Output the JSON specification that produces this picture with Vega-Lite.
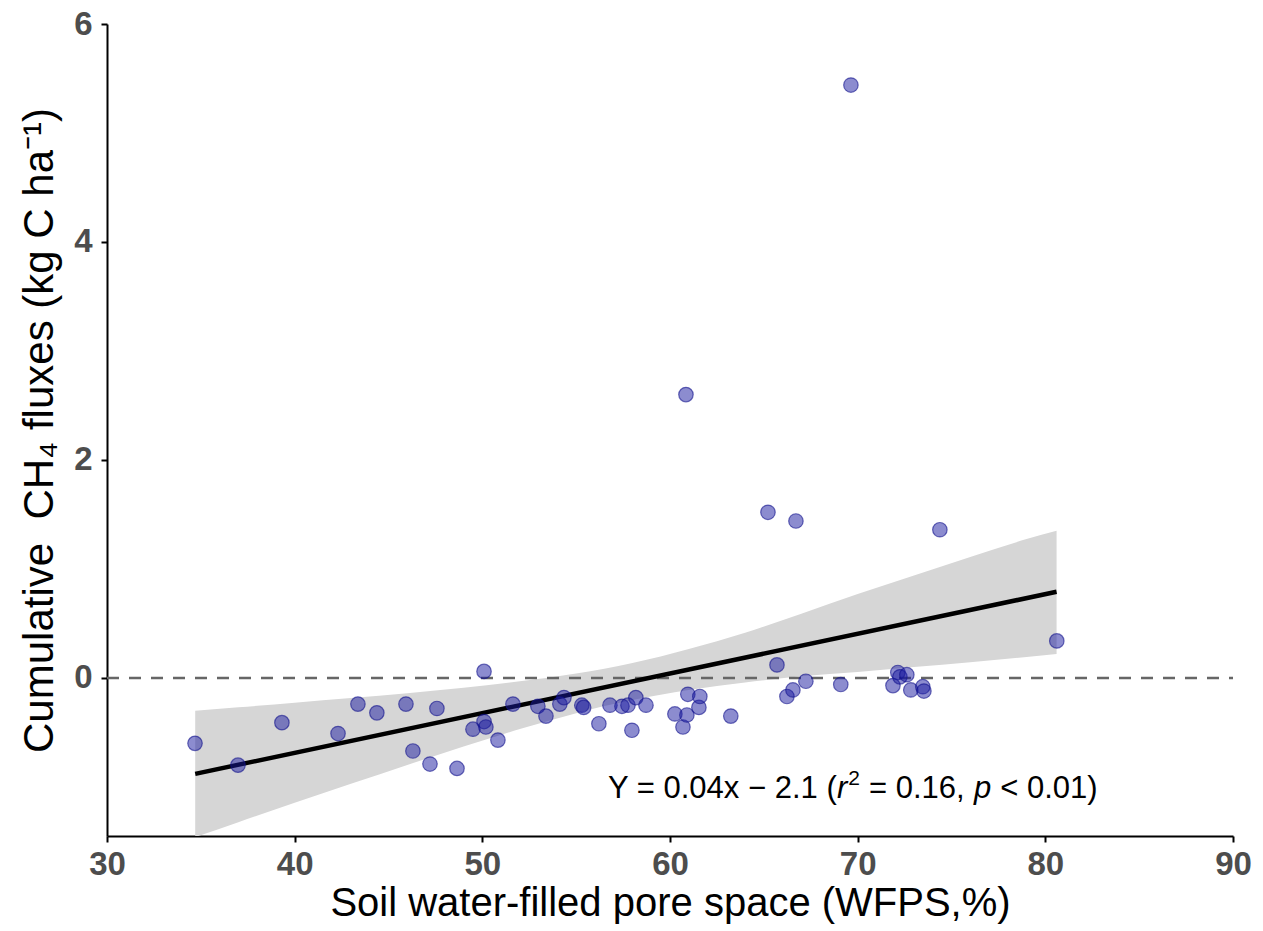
{
  "$schema": "https://vega.github.io/schema/vega-lite/v6.json",
  "autosize": {"type": "none"},
  "width": 1126,
  "height": 812,
  "padding": {"left": 107, "top": 24, "right": 30, "bottom": 95},
  "background": "white",
  "config": {
    "view": {"stroke": null},
    "font": "Liberation Sans",
    "axis": {
      "grid": false,
      "domainColor": "black",
      "domainWidth": 2,
      "tickColor": "black",
      "tickWidth": 2,
      "tickSize": 6,
      "labelFont": "Liberation Sans",
      "labelFontWeight": "bold",
      "labelFontSize": 33,
      "labelColor": "#4D4D4D",
      "labelFlush": false,
      "labelOverlap": false,
      "titleFont": "Liberation Sans",
      "titleFontWeight": "normal",
      "titleColor": "black"
    }
  },
  "datasets": {
    "points": [
      {"wfps": 34.69, "ch4": -0.60}, {"wfps": 36.98, "ch4": -0.80}, {"wfps": 39.32, "ch4": -0.41},
      {"wfps": 42.31, "ch4": -0.51}, {"wfps": 43.37, "ch4": -0.24}, {"wfps": 44.38, "ch4": -0.32},
      {"wfps": 45.93, "ch4": -0.24}, {"wfps": 46.30, "ch4": -0.67}, {"wfps": 47.21, "ch4": -0.79},
      {"wfps": 47.58, "ch4": -0.28}, {"wfps": 48.65, "ch4": -0.83}, {"wfps": 49.50, "ch4": -0.47},
      {"wfps": 50.09, "ch4": 0.06}, {"wfps": 50.09, "ch4": -0.40}, {"wfps": 50.19, "ch4": -0.45},
      {"wfps": 50.83, "ch4": -0.57}, {"wfps": 51.63, "ch4": -0.24}, {"wfps": 52.96, "ch4": -0.26},
      {"wfps": 53.39, "ch4": -0.35}, {"wfps": 54.13, "ch4": -0.24}, {"wfps": 54.35, "ch4": -0.18},
      {"wfps": 55.30, "ch4": -0.25}, {"wfps": 55.40, "ch4": -0.27}, {"wfps": 56.21, "ch4": -0.42},
      {"wfps": 56.80, "ch4": -0.25}, {"wfps": 57.44, "ch4": -0.26}, {"wfps": 57.76, "ch4": -0.25},
      {"wfps": 57.97, "ch4": -0.48}, {"wfps": 58.18, "ch4": -0.18}, {"wfps": 58.72, "ch4": -0.25},
      {"wfps": 60.26, "ch4": -0.33}, {"wfps": 60.69, "ch4": -0.45}, {"wfps": 60.90, "ch4": -0.34},
      {"wfps": 60.95, "ch4": -0.15}, {"wfps": 61.54, "ch4": -0.27}, {"wfps": 61.59, "ch4": -0.17},
      {"wfps": 63.24, "ch4": -0.35}, {"wfps": 65.70, "ch4": 0.12}, {"wfps": 66.23, "ch4": -0.17},
      {"wfps": 66.55, "ch4": -0.11}, {"wfps": 66.71, "ch4": 1.44}, {"wfps": 74.38, "ch4": 1.36},
      {"wfps": 80.61, "ch4": 0.34}, {"wfps": 67.24, "ch4": -0.03}, {"wfps": 69.10, "ch4": -0.06},
      {"wfps": 71.88, "ch4": -0.07}, {"wfps": 72.14, "ch4": 0.05}, {"wfps": 72.25, "ch4": 0.01},
      {"wfps": 72.62, "ch4": 0.03}, {"wfps": 72.83, "ch4": -0.11}, {"wfps": 73.47, "ch4": -0.08},
      {"wfps": 73.53, "ch4": -0.12}, {"wfps": 69.64, "ch4": 5.44}, {"wfps": 60.85, "ch4": 2.60},
      {"wfps": 65.22, "ch4": 1.52}
    ],
    "band": [
      {"wfps": 34.7, "lo": -1.460, "hi": -0.300}, {"wfps": 37, "lo": -1.323, "hi": -0.269},
      {"wfps": 40, "lo": -1.146, "hi": -0.228}, {"wfps": 43, "lo": -0.971, "hi": -0.185},
      {"wfps": 46, "lo": -0.798, "hi": -0.140}, {"wfps": 49, "lo": -0.629, "hi": -0.089},
      {"wfps": 52, "lo": -0.469, "hi": -0.031}, {"wfps": 55, "lo": -0.323, "hi": 0.041},
      {"wfps": 56.5, "lo": -0.258, "hi": 0.085}, {"wfps": 58, "lo": -0.202, "hi": 0.138},
      {"wfps": 59.5, "lo": -0.153, "hi": 0.197}, {"wfps": 61, "lo": -0.111, "hi": 0.265},
      {"wfps": 64, "lo": -0.041, "hi": 0.415}, {"wfps": 67, "lo": 0.015, "hi": 0.590},
      {"wfps": 70, "lo": 0.055, "hi": 0.770}, {"wfps": 73, "lo": 0.100, "hi": 0.940},
      {"wfps": 76, "lo": 0.145, "hi": 1.110}, {"wfps": 79, "lo": 0.192, "hi": 1.274},
      {"wfps": 80.6, "lo": 0.220, "hi": 1.350}
    ],
    "fit": [
      {"wfps": 34.7, "ch4": -0.880}, {"wfps": 80.6, "ch4": 0.791}
    ],
    "zero": [
      {"wfps": 30, "ch4": 0}, {"wfps": 90, "ch4": 0}
    ]
  },
  "layer": [
    {
      "data": {"name": "band"},
      "mark": {"type": "area", "color": "#D6D6D6", "clip": true, "interpolate": "monotone"},
      "encoding": {
        "x": {"field": "wfps", "type": "quantitative",
              "scale": {"domain": [30, 90], "nice": false, "zero": false},
              "axis": {"values": [30, 40, 50, 60, 70, 80, 90], "title": "Soil water-filled pore space (WFPS,%)",
                       "labelBaseline": "alphabetic", "labelPadding": 32,
                       "titleFontSize": 40, "titleBaseline": "alphabetic", "titleY": 79}},
        "y": {"field": "lo", "type": "quantitative",
              "scale": {"domain": [-1.45, 6], "nice": false, "zero": false},
              "axis": {"values": [0, 2, 4, 6], "format": "d", "labelPadding": 9,
                       "title": "Cumulative\u00a0\u00a0CH₄ fluxes (kg C ha⁻¹)",
                       "titleFontSize": 42, "titleBaseline": "alphabetic", "titleX": -55, "titleY": 406, "titleAngle": 270, "titleAlign": "center"}},
        "y2": {"field": "hi"}
      }
    },
    {
      "data": {"name": "zero"},
      "mark": {"type": "line", "color": "#666666", "strokeWidth": 2.5, "strokeDash": [12, 10]},
      "encoding": {
        "x": {"field": "wfps", "type": "quantitative"},
        "y": {"field": "ch4", "type": "quantitative"}
      }
    },
    {
      "data": {"name": "fit"},
      "mark": {"type": "line", "color": "black", "strokeWidth": 4.5},
      "encoding": {
        "x": {"field": "wfps", "type": "quantitative"},
        "y": {"field": "ch4", "type": "quantitative"}
      }
    },
    {
      "data": {"name": "points"},
      "mark": {"type": "circle", "size": 210, "fill": "#1A1AA0", "fillOpacity": 0.5, "stroke": "#10108C", "strokeOpacity": 0.6, "strokeWidth": 1.2},
      "encoding": {
        "x": {"field": "wfps", "type": "quantitative"},
        "y": {"field": "ch4", "type": "quantitative"}
      }
    },
    {
      "data": {"values": [{}]},
      "mark": {"type": "text", "fontSize": 31, "font": "Liberation Sans", "color": "black", "align": "left", "baseline": "alphabetic"},
      "encoding": {"x": {"datum": 56.70}, "y": {"datum": -1.10}, "text": {"value": "Y = 0.04x − 2.1 ("}}
    },
    {
      "data": {"values": [{}]},
      "mark": {"type": "text", "fontSize": 31, "font": "Liberation Sans", "fontStyle": "italic", "color": "black", "align": "left", "baseline": "alphabetic"},
      "encoding": {"x": {"datum": 68.90}, "y": {"datum": -1.10}, "text": {"value": "r"}}
    },
    {
      "data": {"values": [{}]},
      "mark": {"type": "text", "fontSize": 21, "font": "Liberation Sans", "color": "black", "align": "left", "baseline": "alphabetic", "dy": -13},
      "encoding": {"x": {"datum": 69.50}, "y": {"datum": -1.10}, "text": {"value": "2"}}
    },
    {
      "data": {"values": [{}]},
      "mark": {"type": "text", "fontSize": 31, "font": "Liberation Sans", "color": "black", "align": "left", "baseline": "alphabetic"},
      "encoding": {"x": {"datum": 70.60}, "y": {"datum": -1.10}, "text": {"value": "= 0.16,"}}
    },
    {
      "data": {"values": [{}]},
      "mark": {"type": "text", "fontSize": 31, "font": "Liberation Sans", "fontStyle": "italic", "color": "black", "align": "left", "baseline": "alphabetic"},
      "encoding": {"x": {"datum": 76.20}, "y": {"datum": -1.10}, "text": {"value": "p"}}
    },
    {
      "data": {"values": [{}]},
      "mark": {"type": "text", "fontSize": 31, "font": "Liberation Sans", "color": "black", "align": "left", "baseline": "alphabetic"},
      "encoding": {"x": {"datum": 77.60}, "y": {"datum": -1.10}, "text": {"value": "< 0.01)"}}
    }
  ]
}
